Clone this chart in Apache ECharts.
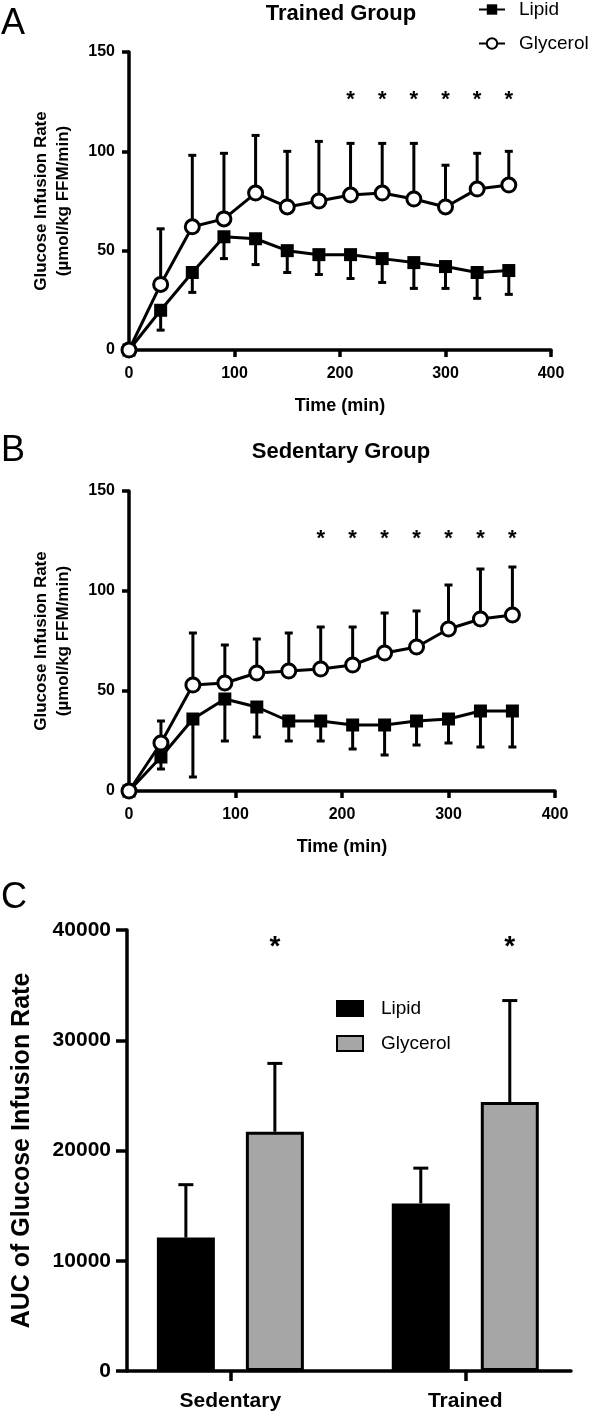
<!DOCTYPE html>
<html>
<head>
<meta charset="utf-8">
<style>
html, body { margin: 0; padding: 0; background: #fff; }
#main { width: 595px; height: 1417px; }
</style>
<script src="https://cdn.jsdelivr.net/npm/echarts@6/dist/echarts.min.js"></script>
</head>
<body>
<div id="main"></div>
<script>
// sampling times (min)
var times = [0, 30, 60, 90, 120, 150, 180, 210, 240, 270, 300, 330, 360];

// A - trained group
var trainedLipid = [0, 20, 39, 57, 56, 50, 48, 48, 46, 44, 42, 39, 40];
var trainedLipidLow = [0, 10, 29, 46, 43, 39, 38, 36, 34, 31, 31, 26, 28];
var trainedGlycerol = [0, 33, 62, 66, 79, 72, 75, 78, 79, 76, 72, 81, 83];
var trainedGlycerolHigh = [0, 61, 98, 99, 108, 100, 105, 104, 104, 104, 93, 99, 100];
var trainedStarTimes = [210, 240, 270, 300, 330, 360];
var trainedStarY = 126;

// B - sedentary group
var sedLipid = [0, 17, 36, 46, 42, 35, 35, 33, 33, 35, 36, 40, 40];
var sedLipidLow = [0, 11, 7, 25, 27, 25, 25, 21, 18, 23, 24, 22, 22];
var sedGlycerol = [0, 24, 53, 54, 59, 60, 61, 63, 69, 72, 81, 86, 88];
var sedGlycerolHigh = [0, 35, 79, 73, 76, 79, 82, 82, 89, 90, 103, 111, 112];
var sedStarTimes = [180, 210, 240, 270, 300, 330, 360];
var sedStarY = 126;

// C - AUC
var groups = ['Sedentary', 'Trained'];
var aucLipid = [12100, 15200];
var aucLipidHigh = [16900, 18400];
var aucGlycerol = [21700, 24400];
var aucGlycerolHigh = [27900, 33600];
var aucStarY = 38400;

var FONT = '"Liberation Sans", Arial, sans-serif';
var groupPos = groups.map(function (g, i) { return i; });

function pairs(xs, ys) {
  return xs.map(function (x, i) { return [x, ys[i]]; });
}
function triples(xs, ys, ends) {
  return xs.map(function (x, i) { return [x, ys[i], ends[i]]; })
    .filter(function (d) { return d[1] !== d[2]; });
}

function errorBar(capHalf, dx, lw) {
  return function (params, api) {
    var x = api.value(0);
    var p0 = api.coord([x, api.value(1)]);
    var p1 = api.coord([x, api.value(2)]);
    var cx = p0[0] + dx;
    var st = { stroke: '#000', lineWidth: lw };
    return {
      type: 'group',
      children: [
        { type: 'line', shape: { x1: cx, y1: p0[1], x2: cx, y2: p1[1] }, style: st },
        { type: 'line', shape: { x1: cx - capHalf, y1: p1[1], x2: cx + capHalf, y2: p1[1] }, style: st }
      ]
    };
  };
}

function star(size, dx) {
  return function (params, api) {
    var p = api.coord([api.value(0), api.value(1)]);
    return {
      type: 'text', x: p[0] + dx, y: p[1],
      style: {
        text: '*', font: 'bold ' + size + 'px ' + FONT, fill: '#000',
        align: 'center', verticalAlign: 'middle', textAlign: 'center', textVerticalAlign: 'middle'
      }
    };
  };
}

function label(text, x, y, size, weight) {
  return {
    type: 'text', x: x, y: y,
    style: {
      text: text, font: weight + ' ' + size + 'px ' + FONT, fill: '#000',
      align: 'center', verticalAlign: 'middle', textAlign: 'center', textVerticalAlign: 'middle'
    }
  };
}

var axisLine = { show: true, onZero: false, lineStyle: { color: '#000', width: 3.5 } };
var tickLabel = { color: '#000', fontWeight: 'bold', fontSize: 16, fontFamily: FONT };

function timeAxis(idx) {
  return {
    gridIndex: idx, type: 'value', min: 0, max: 400, interval: 100,
    axisLine: axisLine,
    axisTick: { show: true, length: 7, lineStyle: { color: '#000', width: 3.5 } },
    axisLabel: Object.assign({ margin: 16 }, tickLabel),
    splitLine: { show: false },
    name: 'Time (min)', nameLocation: 'middle', nameGap: 47,
    nameTextStyle: { color: '#000', fontWeight: 'bold', fontSize: 18, fontFamily: FONT }
  };
}
function rateAxis(idx) {
  return {
    gridIndex: idx, type: 'value', min: 0, max: 150, interval: 50,
    axisLine: axisLine,
    axisTick: { show: true, length: 7, lineStyle: { color: '#000', width: 3.5 } },
    axisLabel: Object.assign({ margin: 14 }, tickLabel),
    splitLine: { show: false },
    name: 'Glucose Infusion Rate\n(µmol/kg FFM/min)', nameLocation: 'middle', nameGap: 55,
    nameTextStyle: { color: '#000', fontWeight: 'bold', fontSize: 17, lineHeight: 22, fontFamily: FONT }
  };
}

function lineSeries(name, idx, ys, open) {
  return {
    type: 'line', name: name, xAxisIndex: idx, yAxisIndex: idx,
    data: pairs(times, ys),
    symbol: open ? 'circle' : 'rect',
    symbolSize: open ? 14 : 13,
    showSymbol: true,
    lineStyle: { color: '#000', width: 3 },
    itemStyle: open ? { color: '#fff', borderColor: '#000', borderWidth: 3 } : { color: '#000', borderColor: '#000', borderWidth: 0 },
    z: 3
  };
}
function errSeries(idx, ys, ends) {
  return {
    type: 'custom', xAxisIndex: idx, yAxisIndex: idx, z: 1,
    data: triples(times, ys, ends),
    renderItem: errorBar(4, 0, 3)
  };
}
function starSeries(idx, ts, y) {
  return {
    type: 'custom', xAxisIndex: idx, yAxisIndex: idx, z: 4,
    data: ts.map(function (t) { return [t, y]; }),
    renderItem: star(22, 0)
  };
}

var barW = 58, barGapPx = 31;
var off = (barW + barGapPx) / 2;

var chart = echarts.init(document.getElementById('main'));
chart.setOption({
  animation: false,
  backgroundColor: '#fff',
  grid: [
    { left: 129, top: 52, width: 422, height: 298 },
    { left: 129, top: 491, width: 426, height: 300 },
    { left: 127, top: 930, width: 444, height: 441 }
  ],
  xAxis: [
    timeAxis(0),
    timeAxis(1),
    {
      gridIndex: 2, type: 'value', min: -0.44, max: 1.45,
      axisLine: axisLine,
      axisTick: { show: true, length: 10, customValues: groupPos, lineStyle: { color: '#000', width: 3.5 } },
      axisLabel: {
        customValues: groupPos, margin: 20, color: '#000', fontWeight: 'bold', fontSize: 21, fontFamily: FONT,
        formatter: function (v) { return groups[Math.round(v)]; }
      },
      splitLine: { show: false }
    }
  ],
  yAxis: [
    rateAxis(0),
    rateAxis(1),
    {
      gridIndex: 2, type: 'value', min: 0, max: 40000, interval: 10000,
      axisLine: axisLine,
      axisTick: { show: true, length: 11, lineStyle: { color: '#000', width: 3.5 } },
      axisLabel: {
        margin: 16, color: '#000', fontWeight: 'bold', fontSize: 21, fontFamily: FONT,
        formatter: function (v) { return String(v); }
      },
      splitLine: { show: false },
      name: 'AUC of Glucose Infusion Rate', nameLocation: 'middle', nameGap: 92,
      nameTextStyle: { color: '#000', fontWeight: 'bold', fontSize: 25, fontFamily: FONT }
    }
  ],
  legend: [
    {
      data: ['Lipid', 'Glycerol'], orient: 'vertical', left: 478, top: 0, padding: 0,
      itemWidth: 26, itemHeight: 13, itemGap: 15, selectedMode: false,
      textStyle: { color: '#000', fontSize: 19, fontFamily: FONT, padding: [0, 0, 0, 9] }
    },
    {
      data: ['Lipid AUC', 'Glycerol AUC'], orient: 'vertical', left: 336, top: 999, padding: 0,
      itemWidth: 26, itemHeight: 15, itemGap: 16, selectedMode: false, icon: 'rect',
      formatter: function (n) { return n.replace(' AUC', ''); },
      textStyle: { color: '#000', fontSize: 19, fontFamily: FONT, padding: [0, 0, 0, 13] }
    }
  ],
  graphic: [
    label('A', 13, 24, 36, 'normal'),
    label('B', 13, 451, 36, 'normal'),
    label('C', 14, 898, 36, 'normal'),
    label('Trained Group', 341, 14, 22, 'bold'),
    label('Sedentary Group', 341, 452, 22, 'bold')
  ],
  series: [
    errSeries(0, trainedLipid, trainedLipidLow),
    errSeries(0, trainedGlycerol, trainedGlycerolHigh),
    lineSeries('Lipid', 0, trainedLipid, false),
    lineSeries('Glycerol', 0, trainedGlycerol, true),
    starSeries(0, trainedStarTimes, trainedStarY),

    errSeries(1, sedLipid, sedLipidLow),
    errSeries(1, sedGlycerol, sedGlycerolHigh),
    lineSeries('Lipid', 1, sedLipid, false),
    lineSeries('Glycerol', 1, sedGlycerol, true),
    starSeries(1, sedStarTimes, sedStarY),

    {
      type: 'bar', name: 'Lipid AUC', xAxisIndex: 2, yAxisIndex: 2,
      data: pairs(groupPos, aucLipid), barWidth: barW, barGap: (barGapPx / barW * 100) + '%',
      itemStyle: { color: '#000', borderColor: '#000', borderWidth: 3 }
    },
    {
      type: 'bar', name: 'Glycerol AUC', xAxisIndex: 2, yAxisIndex: 2,
      data: pairs(groupPos, aucGlycerol), barWidth: barW, barGap: (barGapPx / barW * 100) + '%',
      itemStyle: { color: '#a6a6a6', borderColor: '#000', borderWidth: 3 }
    },
    {
      type: 'custom', xAxisIndex: 2, yAxisIndex: 2, z: 1,
      data: pairs(groupPos, aucLipid).map(function (d, i) { return [d[0], d[1], aucLipidHigh[i]]; }),
      renderItem: errorBar(7.5, -off, 3)
    },
    {
      type: 'custom', xAxisIndex: 2, yAxisIndex: 2, z: 1,
      data: pairs(groupPos, aucGlycerol).map(function (d, i) { return [d[0], d[1], aucGlycerolHigh[i]]; }),
      renderItem: errorBar(7.5, off, 3)
    },
    {
      type: 'custom', xAxisIndex: 2, yAxisIndex: 2, z: 4,
      data: groupPos.map(function (x) { return [x, aucStarY]; }),
      renderItem: star(28, off)
    }
  ]
});
</script>
</body>
</html>
